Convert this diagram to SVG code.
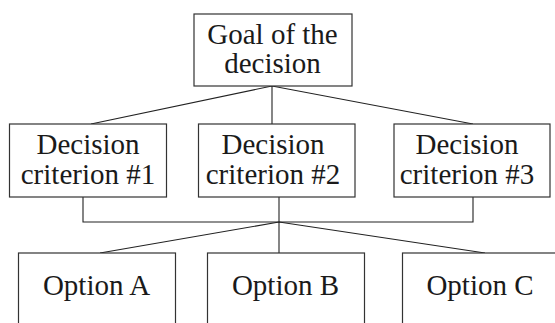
<svg xmlns="http://www.w3.org/2000/svg" width="555" height="323" viewBox="0 0 555 323">
<style>
.box{fill:#fff;stroke:#333;stroke-width:1.2}
.lbl{font-family:"Liberation Serif","Times New Roman",serif;font-size:29px;fill:#1a1a1a;text-anchor:middle}
.con{fill:none;stroke:#222;stroke-width:1.1}
</style>
<rect width="555" height="323" fill="#fff"/>
<g id="connectors">
<polyline class="con" points="91,124 272,86 473,124"/>
<line class="con" x1="272" y1="86" x2="272" y2="124"/>
<polyline class="con" points="83,197 83,222 473,222 473,197"/>
<line class="con" x1="279" y1="197" x2="279" y2="253"/>
<polyline class="con" points="100,253 279,222 485,253"/>
</g>
<g id="goal">
<rect class="box" x="194" y="14" width="158" height="72"/>
<text class="lbl" x="272.5" y="43.5">Goal of the</text>
<text class="lbl" x="272.5" y="72.5">decision</text>
</g>
<g id="criterion1">
<rect class="box" x="9.5" y="124" width="157" height="73"/>
<text class="lbl" x="88" y="153.5">Decision</text>
<text class="lbl" x="88" y="183.5">criterion #1</text>
</g>
<g id="criterion2">
<rect class="box" x="198.5" y="124" width="156.5" height="73"/>
<text class="lbl" x="273" y="153.5">Decision</text>
<text class="lbl" x="273" y="183.5">criterion #2</text>
</g>
<g id="criterion3">
<rect class="box" x="394" y="124" width="156" height="73"/>
<text class="lbl" x="467" y="153.5">Decision</text>
<text class="lbl" x="467" y="183.5">criterion #3</text>
</g>
<g id="optionA">
<rect class="box" x="18.5" y="253" width="157" height="90"/>
<text class="lbl" x="96.5" y="295">Option A</text>
</g>
<g id="optionB">
<rect class="box" x="207.5" y="253" width="157" height="90"/>
<text class="lbl" x="285.5" y="295">Option B</text>
</g>
<g id="optionC">
<rect class="box" x="402.5" y="253" width="170" height="90"/>
<text class="lbl" x="480" y="295">Option C</text>
</g>
</svg>
